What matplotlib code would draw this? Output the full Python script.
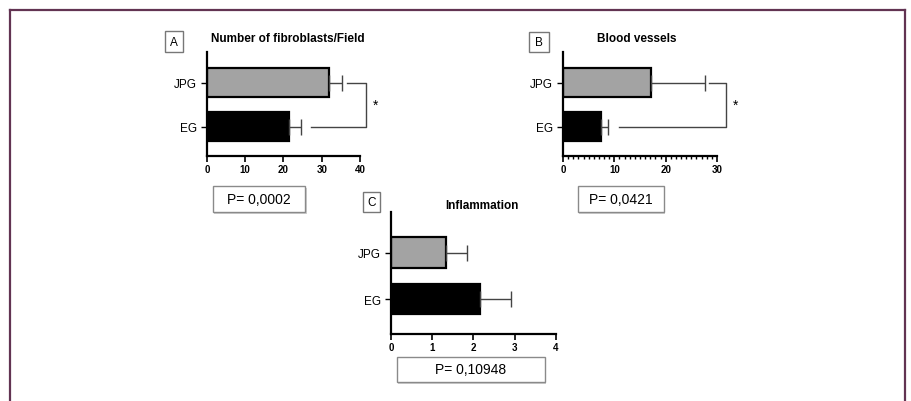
import numpy as np
import matplotlib
matplotlib.use("Agg")
import matplotlib.pyplot as plt
from matplotlib.lines import Line2D
from matplotlib.patches import Rectangle

plt.rcParams['font.family'] = ['Liberation Sans', 'DejaVu Sans']

W, H = 912, 402

groups = ["JPG", "EG"]
fibro_mean = [32.0, 21.5]
fibro_err = [3.2, 3.0]
vessel_mean = [17.2, 7.5]
vessel_err = [10.4, 1.3]
inflam_mean = [1.34, 2.16]
inflam_err = [0.51, 0.75]
titles = ["Number of fibroblasts/Field", "Blood vessels", "Inflammation"]
letters = ["A", "B", "C"]
p_texts = ["P= 0,0002", "P= 0,0421", "P= 0,10948"]
bar_colors = ["#a3a3a3", "#000000"]


def px_axes(fig, x0, x1, y0, y1):
    # pixel box (top-left origin) -> figure axes
    return fig.add_axes([x0 / W, 1 - y1 / H, (x1 - x0) / W, (y1 - y0) / H])


def fig_xy(x, y):
    return x / W, 1 - y / H


def draw_panel(ax, means, errs, xmax, step, ylim, bar_h, minor=None):
    pos = [1, 0]
    ax.barh(pos, means, height=bar_h, color=bar_colors,
            edgecolor="black", linewidth=1.6, zorder=2)
    ax.errorbar(means, pos, xerr=[[0, 0], errs], fmt="none",
                ecolor="#444444", elinewidth=1.0, capsize=5.5,
                capthick=1.0, zorder=3)
    ax.set_xlim(0, xmax)
    ax.set_ylim(*ylim)
    ax.set_xticks(np.arange(0, xmax + 0.01, step))
    if minor:
        ax.set_xticks(np.arange(0, xmax + 0.01, minor), minor=True)
        ax.tick_params(axis="x", which="minor", length=2.5, width=1.0)
    ax.set_yticks(pos)
    ax.set_yticklabels(groups)
    for s in ["top", "right"]:
        ax.spines[s].set_visible(False)
    for s in ["left", "bottom"]:
        ax.spines[s].set_linewidth(1.6)
    ax.tick_params(axis="x", length=4, width=1.2, labelsize=7, pad=2)
    ax.tick_params(axis="y", length=4, width=1.0, labelsize=8.5, pad=3)
    for lab in ax.get_xticklabels():
        lab.set_fontweight("bold")


def bracket(ax, x_top_left, x_right, x_bot_left, x_star):
    kw = dict(color="#444444", linewidth=1.0, clip_on=False)
    ax.plot([x_top_left, x_right, x_right, x_bot_left], [1, 1, 0, 0], **kw)
    ax.text(x_star, 0.5, "*", ha="center", va="center", fontsize=10,
            clip_on=False)


fig = plt.figure(figsize=(W / 100, H / 100), dpi=100)

# outer frame (open at the bottom)
fc = "#623352"
fig.add_artist(Line2D([10 / W, 10 / W], [0, 1 - 11 / H], color=fc, lw=1.6))
fig.add_artist(Line2D([10 / W, 905 / W], [1 - 11 / H, 1 - 11 / H], color=fc, lw=1.6))
fig.add_artist(Line2D([905 / W, 905 / W], [0, 1 - 11 / H], color=fc, lw=1.6))

# panel A
axA = px_axes(fig, 207, 360, 53, 157)
draw_panel(axA, fibro_mean, fibro_err, 40, 10, (-0.66, 1.70), 0.66)
bracket(axA, 36.5, 41.6, 27.1, 44.1)

# panel B
axB = px_axes(fig, 563, 717, 53, 157)
draw_panel(axB, vessel_mean, vessel_err, 30, 10, (-0.66, 1.70), 0.66, minor=1)
bracket(axB, 28.4, 31.8, 10.9, 33.6)

# panel C
axC = px_axes(fig, 391, 556, 213, 335)
draw_panel(axC, inflam_mean, inflam_err, 4, 1, (-0.75, 1.87), 0.65)

# titles
for (x, y), t in zip([(288, 39), (637, 39), (482, 206)], titles):
    fx, fy = fig_xy(x, y)
    fig.text(fx, fy, t, ha="center", va="center", fontsize=8.5,
             fontweight="bold")

# letter boxes
for (x0, x1, y0, y1), l in zip([(165, 183, 32, 53), (529, 549, 33, 53),
                                 (363, 380, 193, 213)], letters):
    bx, by = fig_xy(x0, y1)
    fig.add_artist(Rectangle((bx, by), (x1 - x0) / W, (y1 - y0) / H,
                             transform=fig.transFigure, fill=False,
                             edgecolor="#777777", lw=1.0))
    cx, cy = fig_xy((x0 + x1) / 2, (y0 + y1) / 2)
    fig.text(cx, cy, l, ha="center", va="center", fontsize=8.5)

# P-value boxes
for (x0, x1, y0, y1), t in zip([(213, 305, 187, 213), (578, 664, 187, 213),
                                 (397, 545, 358, 383)], p_texts):
    bx, by = fig_xy(x0 + 1.5, y1 + 1.5)
    fig.add_artist(Rectangle((bx, by), (x1 - x0) / W, (y1 - y0) / H,
                             transform=fig.transFigure, facecolor="#cfcfcf",
                             edgecolor="none"))
    bx, by = fig_xy(x0, y1)
    fig.add_artist(Rectangle((bx, by), (x1 - x0) / W, (y1 - y0) / H,
                             transform=fig.transFigure, facecolor="white",
                             edgecolor="#8a8a8a", lw=1.0))
    cx, cy = fig_xy((x0 + x1) / 2, (y0 + y1) / 2)
    fig.text(cx, cy, t, ha="center", va="center", fontsize=10)

fig.savefig("out.png", dpi=100)
